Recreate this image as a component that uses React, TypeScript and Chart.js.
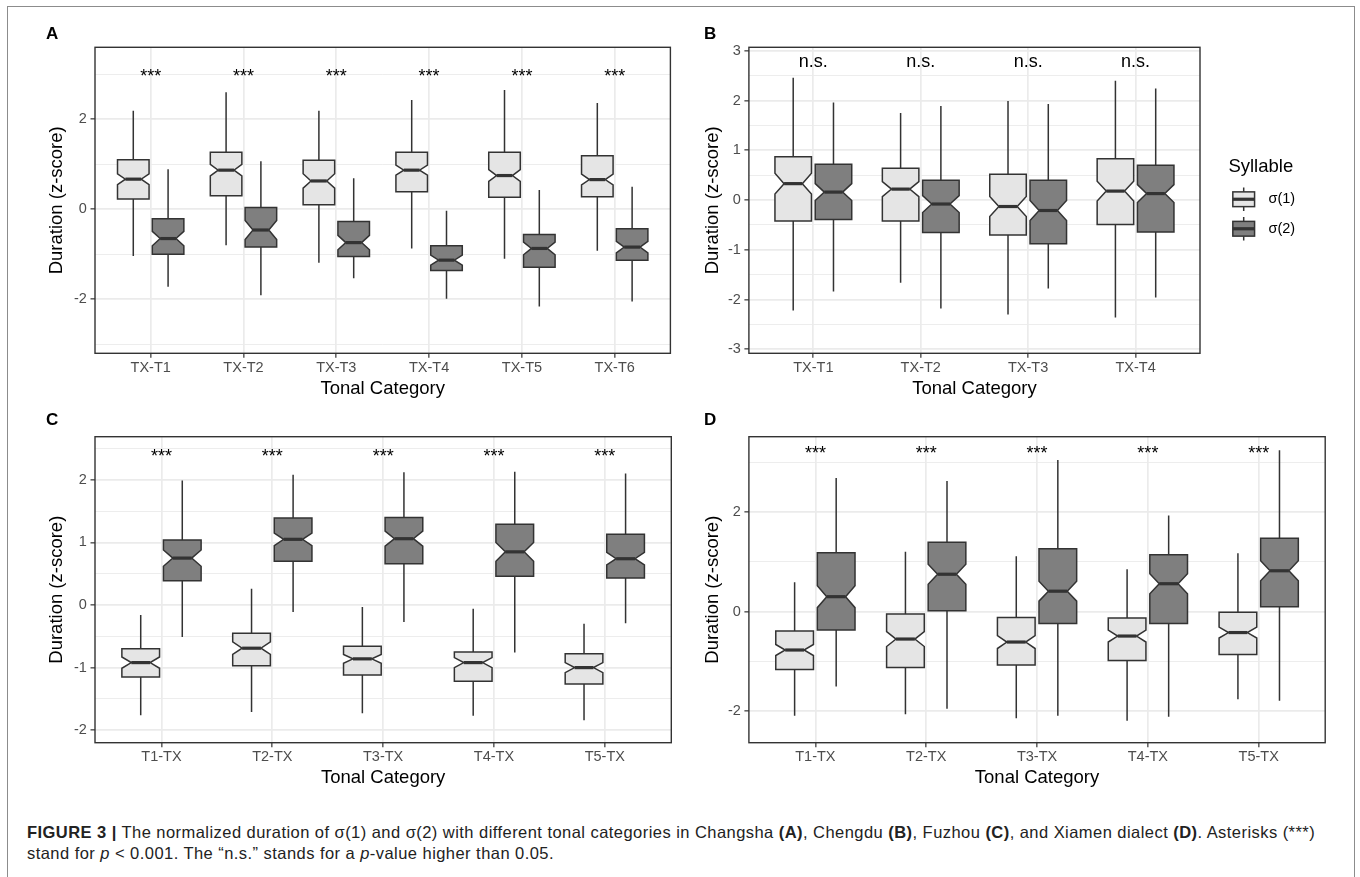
import React, { useEffect, useRef } from "react";
import { Chart, registerables } from "chart.js";

Chart.register(...registerables);

const FONT = '"Liberation Sans", Arial, Helvetica, sans-serif';
const LIGHT = "#E5E5E5";
const DARK = "#7F7F7F";
const INK = "#333333";
const GRID = "#EBEBEB";
const TICK_TXT = "#4D4D4D";

const seriesLabels = ["σ(1)", "σ(2)"];
const legendTitle = "Syllable";
const xTitle = "Tonal Category";
const yTitle = "Duration (z-score)";

// ---------- Panel A : Changsha ----------
const catsA = ["TX-T1", "TX-T2", "TX-T3", "TX-T4", "TX-T5", "TX-T6"];
// rows: [lower whisker, Q1, median, Q3, upper whisker, notch half-size]
const boxesA1 = [
  [-1.04, 0.23, 0.67, 1.1, 2.19, 0.12],
  [-0.8, 0.3, 0.87, 1.27, 2.6, 0.13],
  [-1.19, 0.1, 0.63, 1.09, 2.19, 0.16],
  [-0.87, 0.39, 0.87, 1.27, 2.43, 0.11],
  [-1.1, 0.27, 0.75, 1.27, 2.65, 0.13],
  [-0.92, 0.28, 0.66, 1.19, 2.36, 0.12],
];
const boxesA2 = [
  [-1.72, -1.0, -0.65, -0.21, 0.89, 0.16],
  [-1.91, -0.84, -0.46, 0.04, 1.07, 0.21],
  [-1.53, -1.05, -0.74, -0.27, 0.69, 0.16],
  [-1.99, -1.36, -1.13, -0.81, -0.03, 0.11],
  [-2.16, -1.29, -0.87, -0.56, 0.43, 0.14],
  [-2.05, -1.13, -0.84, -0.43, 0.5, 0.13],
];
const sigA = ["***", "***", "***", "***", "***", "***"];
const sigYA = 3.04;
const yMajorA = [-2, 0, 2];
const yMinorA = [-3, -1, 1, 3];
const yRangeA = [-3.2, 3.6];

// ---------- Panel B : Chengdu ----------
const catsB = ["TX-T1", "TX-T2", "TX-T3", "TX-T4"];
const boxesB1 = [
  [-2.22, -0.42, 0.33, 0.87, 2.46, 0.21],
  [-1.66, -0.42, 0.22, 0.64, 1.75, 0.15],
  [-2.3, -0.7, -0.13, 0.52, 1.99, 0.2],
  [-2.36, -0.49, 0.18, 0.83, 2.4, 0.2],
];
const boxesB2 = [
  [-1.84, -0.39, 0.16, 0.72, 1.96, 0.17],
  [-2.18, -0.65, -0.08, 0.4, 1.89, 0.17],
  [-1.78, -0.88, -0.21, 0.4, 1.93, 0.2],
  [-1.96, -0.64, 0.13, 0.7, 2.24, 0.18],
];
const sigB = ["n.s.", "n.s.", "n.s.", "n.s."];
const sigYB = 2.77;
const yMajorB = [-3, -2, -1, 0, 1, 2, 3];
const yMinorB = [-2.5, -1.5, -0.5, 0.5, 1.5, 2.5];
const yRangeB = [-3.08, 3.07];

// ---------- Panel C : Fuzhou ----------
const catsC = ["T1-TX", "T2-TX", "T3-TX", "T4-TX", "T5-TX"];
const boxesC1 = [
  [-1.76, -1.15, -0.92, -0.7, -0.16, 0.09],
  [-1.71, -0.97, -0.69, -0.45, 0.26, 0.1],
  [-1.73, -1.12, -0.86, -0.66, -0.03, 0.07],
  [-1.77, -1.22, -0.92, -0.75, -0.06, 0.08],
  [-1.84, -1.26, -1.0, -0.78, -0.3, 0.08],
];
const boxesC2 = [
  [-0.51, 0.39, 0.75, 1.04, 1.99, 0.13],
  [-0.11, 0.7, 1.05, 1.39, 2.08, 0.1],
  [-0.27, 0.66, 1.06, 1.4, 2.12, 0.12],
  [-0.76, 0.46, 0.85, 1.29, 2.13, 0.15],
  [-0.29, 0.43, 0.74, 1.13, 2.1, 0.1],
];
const sigC = ["***", "***", "***", "***", "***"];
const sigYC = 2.44;
const yMajorC = [-2, -1, 0, 1, 2];
const yMinorC = [-1.5, -0.5, 0.5, 1.5, 2.5];
const yRangeC = [-2.2, 2.69];

// ---------- Panel D : Xiamen ----------
const catsD = ["T1-TX", "T2-TX", "T3-TX", "T4-TX", "T5-TX"];
const boxesD1 = [
  [-2.09, -1.16, -0.77, -0.39, 0.59, 0.11],
  [-2.06, -1.12, -0.55, -0.05, 1.2, 0.15],
  [-2.14, -1.07, -0.61, -0.12, 1.11, 0.13],
  [-2.19, -0.98, -0.49, -0.13, 0.85, 0.12],
  [-1.76, -0.86, -0.42, -0.01, 1.17, 0.11],
];
const boxesD2 = [
  [-1.5, -0.37, 0.3, 1.18, 2.68, 0.22],
  [-1.95, 0.02, 0.75, 1.39, 2.62, 0.2],
  [-2.09, -0.24, 0.41, 1.26, 3.04, 0.2],
  [-2.11, -0.24, 0.56, 1.14, 1.93, 0.2],
  [-1.79, 0.1, 0.82, 1.47, 3.24, 0.2],
];
const sigD = ["***", "***", "***", "***", "***"];
const sigYD = 3.26;
const yMajorD = [-2, 0, 2];
const yMinorD = [-1, 1, 3];
const yRangeD = [-2.63, 3.51];

const DODGE = 0.1875;
const HALF = 0.17;
const LW = 1.5;
const MED_LW = 3.2;

type PanelCfg = {
  key: string;
  letter: string;
  cats: string[];
  s1: number[][];
  s2: number[][];
  sig: string[];
  sigY: number;
  sigSize: number;
  yMajor: number[];
  yMinor: number[];
  yRange: number[];
  left: number;
  top: number;
  width: number;
  height: number;
  padTop: number;
  padRight: number;
  yw: number;
  xh: number;
  yTitlePad: number;
  xTitlePad: number;
  letterX: number;
  letterY: number;
  legend?: boolean;
};

const panels: PanelCfg[] = [
  {
    key: "A", letter: "A", cats: catsA, s1: boxesA1, s2: boxesA2, sig: sigA, sigY: sigYA, sigSize: 18,
    yMajor: yMajorA, yMinor: yMinorA, yRange: yRangeA,
    left: 0, top: 0, width: 680, height: 400,
    padTop: 47.3, padRight: 9.6, yw: 95, xh: 46.7, yTitlePad: 46, xTitlePad: 0,
    letterX: 46, letterY: 38.5,
  },
  {
    key: "B", letter: "B", cats: catsB, s1: boxesB1, s2: boxesB2, sig: sigB, sigY: sigYB, sigSize: 18,
    yMajor: yMajorB, yMinor: yMinorB, yRange: yRangeB,
    left: 680, top: 0, width: 680, height: 400,
    padTop: 47.3, padRight: 160, yw: 68.9, xh: 46.7, yTitlePad: 21.6, xTitlePad: 0,
    letterX: 24, letterY: 38.5, legend: true,
  },
  {
    key: "C", letter: "C", cats: catsC, s1: boxesC1, s2: boxesC2, sig: sigC, sigY: sigYC, sigSize: 18,
    yMajor: yMajorC, yMinor: yMinorC, yRange: yRangeC,
    left: 0, top: 400, width: 680, height: 390,
    padTop: 36.7, padRight: 8.7, yw: 95, xh: 47.3, yTitlePad: 46, xTitlePad: 0.9,
    letterX: 46, letterY: 24.6,
  },
  {
    key: "D", letter: "D", cats: catsD, s1: boxesD1, s2: boxesD2, sig: sigD, sigY: sigYD, sigSize: 18,
    yMajor: yMajorD, yMinor: yMinorD, yRange: yRangeD,
    left: 680, top: 400, width: 680, height: 390,
    padTop: 36.7, padRight: 34.8, yw: 68.9, xh: 47.3, yTitlePad: 21.6, xTitlePad: 0.9,
    letterX: 24, letterY: 24.6,
  },
];

function drawNotchedBox(ctx: CanvasRenderingContext2D, X: (v: number) => number, Y: (v: number) => number, xc: number, box: number[], fill: string) {
  const [lo, q1, med, q3, hi, nh] = box;
  const cx = X(xc);
  const xl = X(xc - HALF);
  const xr = X(xc + HALF);
  const ni = (xr - xl) / 4;
  ctx.save();
  ctx.strokeStyle = INK;
  ctx.lineWidth = LW;
  ctx.lineCap = "butt";
  ctx.beginPath();
  ctx.moveTo(cx, Y(q3));
  ctx.lineTo(cx, Y(hi));
  ctx.moveTo(cx, Y(q1));
  ctx.lineTo(cx, Y(lo));
  ctx.stroke();
  ctx.beginPath();
  ctx.moveTo(xl, Y(q3));
  ctx.lineTo(xr, Y(q3));
  ctx.lineTo(xr, Y(med + nh));
  ctx.lineTo(xr - ni, Y(med));
  ctx.lineTo(xr, Y(med - nh));
  ctx.lineTo(xr, Y(q1));
  ctx.lineTo(xl, Y(q1));
  ctx.lineTo(xl, Y(med - nh));
  ctx.lineTo(xl + ni, Y(med));
  ctx.lineTo(xl, Y(med + nh));
  ctx.closePath();
  ctx.fillStyle = fill;
  ctx.fill();
  ctx.stroke();
  ctx.lineWidth = MED_LW;
  ctx.beginPath();
  ctx.moveTo(xl + ni, Y(med));
  ctx.lineTo(xr - ni, Y(med));
  ctx.stroke();
  ctx.restore();
}

function makePlugin(p: PanelCfg) {
  return {
    id: "notched-" + p.key,
    afterDatasetsDraw(chart: any) {
      const ctx: CanvasRenderingContext2D = chart.ctx;
      const xs = chart.scales.x;
      const ys = chart.scales.y;
      const X = (v: number) => xs.getPixelForValue(v);
      const Y = (v: number) => ys.getPixelForValue(v);
      chart.data.datasets.forEach((ds: any, di: number) => {
        const fill = di === 0 ? LIGHT : DARK;
        ds.data.forEach((pt: any) => drawNotchedBox(ctx, X, Y, pt.x, pt.box, fill));
      });
      ctx.save();
      ctx.fillStyle = "#000";
      ctx.font = `${p.sigSize}px ${FONT}`;
      ctx.textAlign = "center";
      ctx.textBaseline = "alphabetic";
      p.sig.forEach((t, i) => {
        const m = ctx.measureText(t);
        const py = Y(p.sigY) + (m.actualBoundingBoxAscent - m.actualBoundingBoxDescent) / 2;
        ctx.fillText(t, X(i + 1), py);
      });
      ctx.restore();
    },
    afterDraw(chart: any) {
      const ctx: CanvasRenderingContext2D = chart.ctx;
      const a = chart.chartArea;
      ctx.save();
      ctx.strokeStyle = INK;
      ctx.lineWidth = 1.4;
      ctx.strokeRect(a.left, a.top, a.right - a.left, a.bottom - a.top);
      ctx.fillStyle = "#000";
      ctx.font = `bold 17px ${FONT}`;
      ctx.textAlign = "left";
      ctx.textBaseline = "alphabetic";
      ctx.fillText(p.letter, p.letterX, p.letterY);
      if (p.legend) {
        const titleX = 548.4;
        const keyX = 549.2;
        const keyW = 29;
        const keyH = 29.5;
        const keyTops = [184.5, 214];
        const labelX = 588.5;
        ctx.font = `18.5px ${FONT}`;
        ctx.textBaseline = "middle";
        ctx.fillText(legendTitle, titleX, 166.7);
        const fills = [LIGHT, DARK];
        keyTops.forEach((kt, i) => {
          const cx = keyX + keyW / 2;
          ctx.strokeStyle = INK;
          ctx.lineWidth = LW;
          ctx.beginPath();
          ctx.moveTo(cx, kt + 0.1 * keyH);
          ctx.lineTo(cx, kt + 0.25 * keyH);
          ctx.moveTo(cx, kt + 0.75 * keyH);
          ctx.lineTo(cx, kt + 0.9 * keyH);
          ctx.stroke();
          const bx = keyX + 0.125 * keyW;
          const bw = 0.75 * keyW;
          const by = kt + 0.25 * keyH;
          const bh = 0.5 * keyH;
          ctx.fillStyle = fills[i];
          ctx.fillRect(bx, by, bw, bh);
          ctx.strokeRect(bx, by, bw, bh);
          ctx.lineWidth = MED_LW;
          ctx.beginPath();
          ctx.moveTo(bx, kt + keyH / 2);
          ctx.lineTo(bx + bw, kt + keyH / 2);
          ctx.stroke();
          ctx.fillStyle = "#000";
          ctx.font = `14.5px ${FONT}`;
          ctx.textBaseline = "middle";
          ctx.fillText(seriesLabels[i], labelX, kt + keyH / 2);
        });
      }
      ctx.restore();
    },
  };
}

function buildConfig(p: PanelCfg): any {
  const n = p.cats.length;
  const isMajor = (v: number) => p.yMajor.some((m) => Math.abs(m - v) < 1e-6);
  const yTicks = [...p.yMajor, ...p.yMinor].sort((a, b) => a - b);
  const mk = (boxes: number[][], sign: number, label: string, color: string) => ({
    label,
    data: boxes.map((b, i) => ({ x: i + 1 + sign * DODGE, y: b[2], box: b })),
    backgroundColor: color,
    borderColor: INK,
    pointRadius: 0,
    showLine: false,
  });
  return {
    type: "scatter",
    data: {
      datasets: [mk(p.s1, -1, seriesLabels[0], LIGHT), mk(p.s2, 1, seriesLabels[1], DARK)],
    },
    options: {
      responsive: false,
      animation: false,
      events: [],
      layout: { padding: { left: 0, top: p.padTop, right: p.padRight, bottom: 0 } },
      plugins: { legend: { display: false }, tooltip: { enabled: false } },
      scales: {
        x: {
          type: "linear",
          min: 0.4,
          max: n + 0.6,
          afterBuildTicks: (s: any) => {
            s.ticks = p.cats.map((_, i) => ({ value: i + 1 }));
          },
          afterFit: (s: any) => {
            s.height = p.xh;
          },
          ticks: {
            autoSkip: false,
            maxRotation: 0,
            padding: 1.5,
            color: TICK_TXT,
            font: { family: FONT, size: 14.5 },
            callback: (v: number) => p.cats[Math.round(v) - 1] ?? "",
          },
          grid: { color: GRID, lineWidth: 1.7, tickColor: INK, tickLength: 4.5, tickWidth: 1.2 },
          border: { display: false },
          title: {
            display: true,
            text: xTitle,
            color: "#000",
            font: { family: FONT, size: 18.5 },
            padding: { top: 0, bottom: p.xTitlePad },
          },
        },
        y: {
          type: "linear",
          min: p.yRange[0],
          max: p.yRange[1],
          afterBuildTicks: (s: any) => {
            s.ticks = yTicks.map((v) => ({ value: v }));
          },
          afterFit: (s: any) => {
            s.width = p.yw;
          },
          ticks: {
            autoSkip: false,
            padding: 3.6,
            color: TICK_TXT,
            font: { family: FONT, size: 14.5 },
            callback: (v: number) => (isMajor(v) ? String(v) : ""),
          },
          grid: {
            color: GRID,
            lineWidth: (c: any) => (c.tick && isMajor(c.tick.value) ? 1.7 : 0.9),
            tickColor: (c: any) => (c.tick && isMajor(c.tick.value) ? INK : "rgba(0,0,0,0)"),
            tickLength: 4.5,
            tickWidth: 1.2,
          },
          border: { display: false },
          title: {
            display: true,
            text: yTitle,
            color: "#000",
            font: { family: FONT, size: 18.5 },
            padding: { top: p.yTitlePad, bottom: 0 },
          },
        },
      },
    },
    plugins: [makePlugin(p)],
  };
}

function Panel({ p }: { p: PanelCfg }) {
  const ref = useRef<HTMLCanvasElement | null>(null);
  useEffect(() => {
    if (!ref.current) return;
    const chart = new Chart(ref.current, buildConfig(p));
    return () => chart.destroy();
  }, [p]);
  return (
    <canvas
      ref={ref}
      width={p.width}
      height={p.height}
      style={{ position: "absolute", left: p.left, top: p.top, width: p.width, height: p.height }}
    />
  );
}

export default function App() {
  return (
    <div
      style={{
        position: "absolute",
        left: 0,
        top: 0,
        width: 1360,
        height: 877,
        overflow: "hidden",
        background: "#fff",
        fontFamily: FONT,
      }}
    >
      <div
        style={{
          position: "absolute",
          left: 7,
          top: 6,
          width: 1348,
          height: 900,
          border: "1.5px solid #8c8c8c",
          borderBottom: "none",
          boxSizing: "border-box",
        }}
      />
      {panels.map((p) => (
        <Panel key={p.key} p={p} />
      ))}
      <div
        style={{
          position: "absolute",
          left: 27,
          top: 822,
          fontSize: 16.5,
          letterSpacing: "0.45px",
          lineHeight: "21px",
          color: "#222",
          whiteSpace: "nowrap",
        }}
      >
        <b>FIGURE 3 |</b> The normalized duration of σ(1) and σ(2) with different tonal categories in Changsha <b>(A)</b>,
        Chengdu <b>(B)</b>, Fuzhou <b>(C)</b>, and Xiamen dialect <b>(D)</b>. Asterisks (***)
        <br />
        stand for <i>p</i> &lt; 0.001. The “n.s.” stands for a <i>p</i>-value higher than 0.05.
      </div>
    </div>
  );
}
